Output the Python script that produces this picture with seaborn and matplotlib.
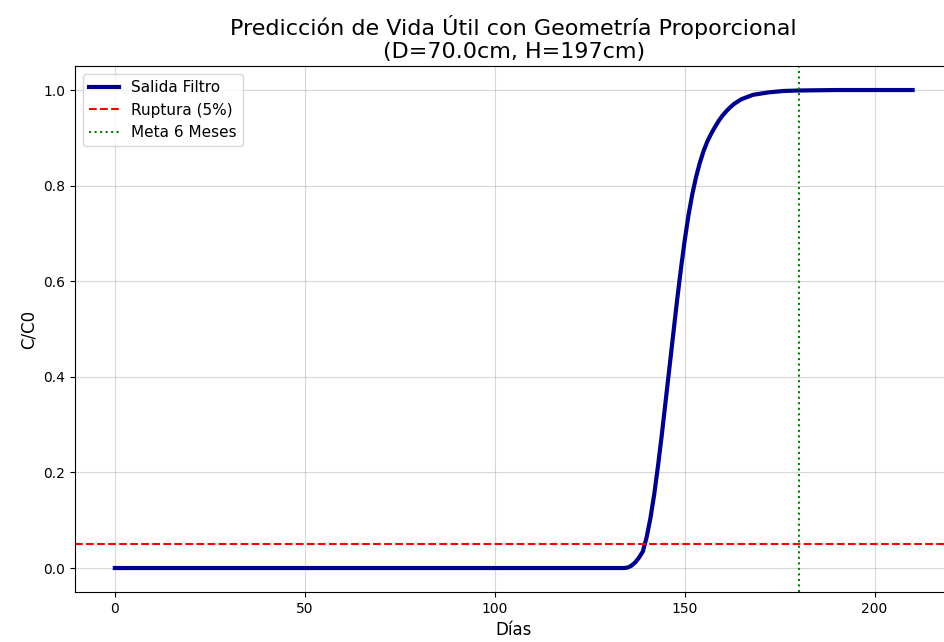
import numpy as np
import pandas as pd
import matplotlib
matplotlib.use('Agg')
import matplotlib.pyplot as plt
import seaborn as sns

# Curva de ruptura
dias = [0, 20, 40, 60, 80, 100, 120, 130, 134, 135, 136, 137, 138, 139, 140,
        141, 142, 143, 144, 145, 146, 147, 148, 149, 150, 151, 152, 153, 154,
        155, 156, 157, 158, 159, 160, 161, 162, 163, 165, 168, 172, 176, 180,
        190, 200, 210]
c_c0 = [0, 0, 0, 0, 0, 0, 0, 0, 0.0, 0.001, 0.005, 0.012, 0.022, 0.035, 0.065,
        0.105, 0.155, 0.215, 0.28, 0.35, 0.42, 0.49, 0.56, 0.625, 0.685, 0.738,
        0.782, 0.818, 0.848, 0.873, 0.893, 0.909, 0.923, 0.936, 0.947, 0.956,
        0.964, 0.971, 0.981, 0.990, 0.995, 0.998, 0.999, 1.0, 1.0, 1.0]

umbral_ruptura = 0.05
meta_dias = 180

df = pd.DataFrame({'dias': dias, 'c_c0': c_c0})

fig = plt.figure(figsize=(9.44, 6.42), dpi=100)
ax = fig.add_axes([0.0794, 0.078, 0.9296, 0.819])

sns.lineplot(data=df, x='dias', y='c_c0', ax=ax, color='darkblue', linewidth=3,
             label='Salida Filtro')
ax.axhline(umbral_ruptura, color='red', linestyle='--', linewidth=1.5, label='Ruptura (5%)')
ax.axvline(meta_dias, color='green', linestyle=':', linewidth=1.5, label='Meta 6 Meses')

ax.set_xlim(-10.5, 220.5)
ax.set_ylim(-0.05, 1.05)
ax.grid(True, alpha=0.5)
ax.set_title('Predicción de Vida Útil con Geometría Proporcional\n(D=70.0cm, H=197cm)', fontsize=16)
ax.set_xlabel('Días', fontsize=12)
ax.set_ylabel('C/C0', fontsize=12)
ax.legend(loc='upper left', fontsize=11)

fig.savefig('out.png', dpi=100)
